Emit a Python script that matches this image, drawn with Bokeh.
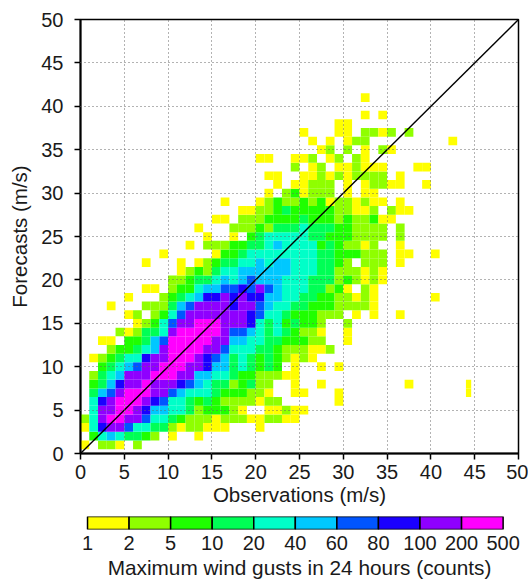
from bokeh.embed import file_html
from bokeh.layouts import column
from bokeh.models import FixedTicker
from bokeh.plotting import figure
from bokeh.resources import INLINE

FONT = "Liberation Sans"
axis_ticks = [0, 5, 10, 15, 20, 25, 30, 35, 40, 45, 50]
diagonal = [0, 50]
class_edges = ["1", "2", "5", "10", "20", "40", "60", "80", "100", "200", "500"]
class_colors = ["#ffff00", "#8fff00", "#1fff00", "#00ff55", "#00ffc8",
                "#00c8ff", "#0055ff", "#1a00ff", "#8f00ff", "#ff00ff"]
class_codes = "123456789A"

# count class per observation bin (1 m/s, starting at 0), one string per forecast value 1..41
forecast_rows = [
    "1.221 .2",
    ".3565 4432. 1..1",
    "15899 75544 21221 11... 1",
    "259AA 99755 43222 12221 12211",
    ".599A A9866 55423 3321. .1121 1",
    ".589A AA987 55434 32222 122.. ....1",
    ".4679 AAA99 76555 43332 21..1 1...1",
    ".3468 99A99 98765 44234 22..1 ..1.. ..... ..1",
    ".2456 999AA A9966 55433 22211",
    "..345 6799A AA998 66454 343.1 ..1.1",
    ".1234 55899 AAA98 76454 34321 21",
    "...23 34569 AAAA9 97555 44322 2112",
    "..11. 33467 AAAAA 99665 54433 322.. 1",
    "....2 12445 9AAAA A9776 54543 221.. 1",
    "..... .1235 799AA A9998 54534 332.. 2",
    "..... 12.23 57999 99998 75543 33222 .1.1. .1",
    "...1. ..222 46799 99899 76554 43332 2221",
    "..... 1...2 34568 89898 86655 44332 2121. ..... 1",
    "..... ..11. 23356 67787 97655 54423 1.21",
    "..... ..... 22344 56567 66655 54442 32121",
    "..... ..... .1232 45566 66665 55442 22121",
    "..... ..1.. .1.12 34455 65665 55443 2.222 .1",
    "..... ....1 ..... 13345 55555 55443 33222 .11.. 1",
    "..... ..... ..1.2 22334 45655 55343 2212. .1",
    "..... ..... ....1 ..1.3 45555 54433 32222 .2",
    "..... ..... ...1. ..222 32444 54443 32222 .2",
    "..... ..... ..... 11.22 23333 43332 32231 1",
    "..... ..... ..... ...11 22343 33332 2112. 211",
    "..... ..... ..... .1... 12322 32312 21211 .1",
    "..... ..... ..... ..... .1.23 1222. 1.11",
    "..... ..... ..... ..... ..1.1 1222. 1.122 11..1",
    "..... ..... ..... ..... .11.. 11212 12222 .1",
    "..... ..... ..... ..... ....2 .12.1 12111 ...11",
    "..... ..... ..... ..... 11..1 12.12 .21",
    "..... ..... ..... ..... ..... ..12. 2.1.2 1",
    "..... ..... ..... ..... ..... .1.1. 122.. ..... ..1",
    "..... ..... ..... ..... ..... 1...1 1.221 2.2",
    "..... ..... ..... ..... ..... ....1 1",
    "..... ..... ..... ..... ..... ..... ..1.1",
    "",
    "..... ..... ..... ..... ..... ..... ..1",
]
# last, narrower yellow bin
narrow_obs = [44, 44]
narrow_fc = [7, 8]
narrow_width = 0.6

left, right, bottom, top, colors = [], [], [], [], []
for n, row in enumerate(forecast_rows):
    fc = n + 1
    for i, ch in enumerate(row.replace(" ", "")):
        if ch != ".":
            left.append(i)
            right.append(i + 1)
            bottom.append(fc - 0.5)
            top.append(fc + 0.5)
            colors.append(class_colors[class_codes.index(ch)])
for o, f in zip(narrow_obs, narrow_fc):
    left.append(o)
    right.append(o + narrow_width)
    bottom.append(f - 0.5)
    top.append(f + 0.5)
    colors.append(class_colors[0])

p = figure(width=528, height=508, x_range=(0, 50), y_range=(0, 50),
           output_backend="svg", toolbar_location=None,
           min_border_left=80, min_border_right=10, min_border_top=19, min_border_bottom=54,
           x_axis_label="Observations (m/s)", y_axis_label="Forecasts (m/s)")
p.quad(left=left, right=right, bottom=bottom, top=top, fill_color=colors, line_color=None)
p.line(diagonal, diagonal, line_color="black", line_width=1.4)

for ax in (p.xaxis[0], p.yaxis[0]):
    ax.ticker = FixedTicker(ticks=axis_ticks)
    ax.minor_tick_line_color = None
    ax.major_tick_in = 0
    ax.major_tick_out = 6
    ax.major_tick_line_color = "black"
    ax.major_tick_line_width = 1.5
    ax.axis_line_color = "black"
    ax.axis_line_width = 2
    ax.major_label_text_font = FONT
    ax.major_label_text_font_size = "20px"
    ax.major_label_text_color = "#1a1a1a"
    ax.axis_label_text_font = FONT
    ax.axis_label_text_font_style = "normal"
    ax.axis_label_text_color = "#1a1a1a"
p.xaxis[0].axis_label_text_font_size = "20.5px"
p.yaxis[0].axis_label_text_font_size = "20.5px"
p.xaxis[0].major_label_standoff = 5
p.xaxis[0].axis_label_standoff = 1
p.yaxis[0].major_label_standoff = 11
p.yaxis[0].axis_label_standoff = 7
p.outline_line_color = "black"
p.outline_line_width = 1.5
p.outline_line_alpha = 1
for g in (p.xgrid[0], p.ygrid[0]):
    g.ticker = FixedTicker(ticks=axis_ticks)
    g.level = "annotation"
    g.grid_line_color = "#666666"
    g.grid_line_width = 1
    g.grid_line_dash = "1 3"

bar_pos = list(range(len(class_colors)))
c = figure(width=528, height=77, x_range=(-0.169, 10.37), y_range=(0, 1),
           output_backend="svg", toolbar_location=None,
           min_border_left=80, min_border_right=10, min_border_top=8, min_border_bottom=56,
           x_axis_label="Maximum wind gusts in 24 hours (counts)")
c.quad(left=bar_pos, right=[b + 1 for b in bar_pos], bottom=0, top=1,
       fill_color=class_colors, line_color="black", line_width=1.5)
c.yaxis.visible = False
c.grid.visible = False
c.outline_line_color = None
ax = c.xaxis[0]
ax.ticker = FixedTicker(ticks=list(range(len(class_edges))))
ax.major_label_overrides = {i: s for i, s in enumerate(class_edges)}
ax.axis_line_color = None
ax.major_tick_line_color = None
ax.minor_tick_line_color = None
ax.major_tick_in = 0
ax.major_tick_out = 0
ax.major_label_standoff = 6
ax.major_label_text_font = FONT
ax.major_label_text_font_size = "20px"
ax.major_label_text_color = "#1a1a1a"
ax.axis_label_standoff = 3
ax.axis_label_text_font = FONT
ax.axis_label_text_font_size = "20.8px"
ax.axis_label_text_font_style = "normal"
ax.axis_label_text_color = "#1a1a1a"

page = column(p, c, spacing=0)
open("out.html", "w").write(file_html(page, INLINE))
